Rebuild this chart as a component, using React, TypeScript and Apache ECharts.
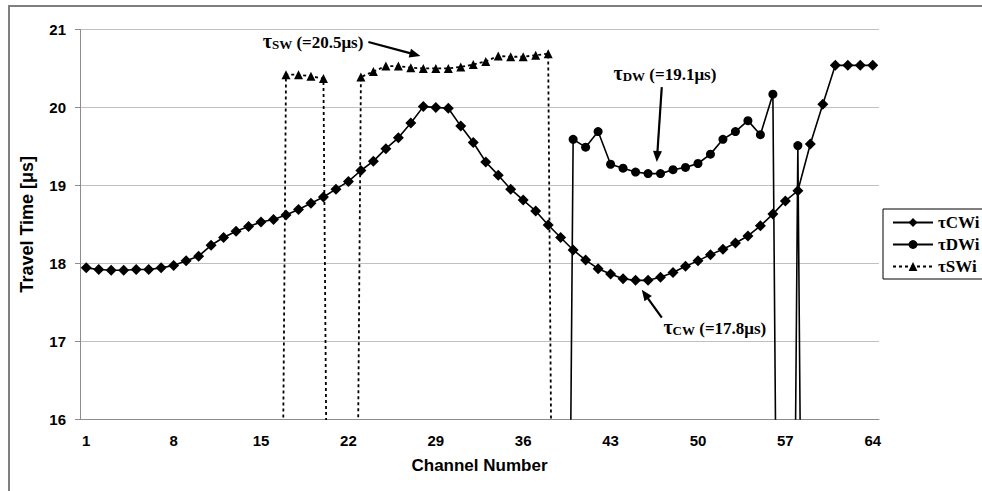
import React, { useEffect, useRef } from "react";
import * as echarts from "echarts";

const channels: string[] = Array.from({ length: 64 }, (_, i) => String(i + 1));

const tauCW: number[] = [
  17.94, 17.92, 17.91, 17.91, 17.92, 17.92, 17.94, 17.97, 18.03, 18.09,
  18.23, 18.33, 18.41, 18.47, 18.53, 18.56, 18.62, 18.69, 18.77, 18.85,
  18.95, 19.05, 19.19, 19.31, 19.47, 19.61, 19.8, 20.01, 20.0, 19.99,
  19.76, 19.55, 19.3, 19.13, 18.95, 18.81, 18.67, 18.49, 18.33, 18.17,
  18.04, 17.93, 17.86, 17.8, 17.78, 17.78, 17.82, 17.88, 17.96, 18.03,
  18.11, 18.18, 18.26, 18.35, 18.48, 18.63, 18.8, 18.93, 19.53, 20.04,
  20.54, 20.54, 20.54, 20.54,
];

const N = null;
const tauDW: (number | null)[] = [
  N, N, N, N, N, N, N, N, N, N,
  N, N, N, N, N, N, N, N, N, N,
  N, N, N, N, N, N, N, N, N, N,
  N, N, N, N, N, N, N, N, 0, 19.59,
  19.49, 19.69, 19.27, 19.22, 19.17, 19.15, 19.15, 19.2, 19.23, 19.28,
  19.4, 19.59, 19.69, 19.83, 19.65, 20.17, 0, 19.51, 0, N,
  N, N, N, N,
];

const tauSW: (number | null)[] = [
  N, N, N, N, N, N, N, N, N, N,
  N, N, N, N, N, 0, 20.42, 20.42, 20.4, 20.37,
  0, 0, 20.39, 20.46, 20.53, 20.53, 20.51, 20.5, 20.5, 20.5,
  20.52, 20.55, 20.59, 20.66, 20.65, 20.65, 20.67, 20.69, 0, N,
  N, N, N, N, N, N, N, N, N, N,
  N, N, N, N, N, N, N, N, N, N,
  N, N, N, N,
];

const seriesNames = ["τCWi", "τDWi", "τSWi"];

// annotation anchors in data units: [channel, value]
const annotations = [
  { sym: "τ", sub: "SW", rest: " (=20.5μs)", text: [23.2, 20.85], align: "right", from: [23.6, 20.84], to: [27.77, 20.66] },
  { sym: "τ", sub: "DW", rest: " (=19.1μs)", text: [47.35, 20.44], align: "center", from: [47.1, 20.26], to: [46.7, 19.3] },
  { sym: "τ", sub: "CW", rest: " (=17.8μs)", text: [47.23, 17.18], align: "left", from: [47.1, 17.3], to: [45.5, 17.66] },
];

const SANS = "'Liberation Sans', Arial, sans-serif";
const SERIF = "'Liberation Serif', 'Times New Roman', serif";

function toItems(arr: (number | null)[]) {
  return arr.map((v) => (v === 0 ? { value: 0, symbol: "none" } : v));
}

export default function App() {
  const ref = useRef<HTMLDivElement>(null);
  useEffect(() => {
    if (!ref.current) return;
    const chart = echarts.init(ref.current, null, { renderer: "svg" });
    const axisGray = "#8c8c8c";
    chart.setOption({
      animation: false,
      grid: { left: 80, right: 103, top: 29.5, bottom: 72 },
      xAxis: {
        type: "category",
        data: channels,
        boundaryGap: true,
        axisLine: { lineStyle: { color: axisGray, width: 1 } },
        axisTick: { interval: 0, length: 5, lineStyle: { color: axisGray } },
        axisLabel: { interval: 6, margin: 14, fontFamily: SANS, fontWeight: "bold", fontSize: 15, color: "#000" },
        splitLine: { show: false },
        name: "Channel Number",
        nameLocation: "middle",
        nameGap: 38,
        nameTextStyle: { fontFamily: SANS, fontWeight: "bold", fontSize: 17, color: "#000" },
      },
      yAxis: {
        type: "value",
        min: 16,
        max: 21,
        interval: 1,
        axisLine: { show: true, lineStyle: { color: axisGray, width: 1 } },
        axisTick: { show: true, length: 5, lineStyle: { color: axisGray } },
        axisLabel: { margin: 14, fontFamily: SANS, fontWeight: "bold", fontSize: 15, color: "#000" },
        splitLine: { lineStyle: { color: "#c0c0c0", width: 1 } },
        name: "Travel Time [μs]",
        nameLocation: "middle",
        nameGap: 44,
        nameRotate: 90,
        nameTextStyle: { fontFamily: SANS, fontWeight: "bold", fontSize: 18, color: "#000" },
      },
      legend: {
        orient: "vertical",
        left: 883,
        top: 209,
        data: seriesNames,
        itemWidth: 40,
        itemHeight: 11,
        itemGap: 5,
        padding: [5, 30, 4, 9],
        borderColor: "#000",
        borderWidth: 1,
        backgroundColor: "#fff",
        textStyle: { fontFamily: SERIF, fontWeight: "bold", fontSize: 17, color: "#000" },
      },
      series: [
        {
          name: seriesNames[0],
          type: "line",
          data: tauCW,
          symbol: "diamond",
          symbolSize: 11,
          showAllSymbol: true,
          itemStyle: { color: "#000" },
          lineStyle: { color: "#000", width: 1.6 },
          emphasis: { disabled: true },
          z: 3,
        },
        {
          name: seriesNames[1],
          type: "line",
          data: toItems(tauDW),
          symbol: "circle",
          symbolSize: 9,
          showAllSymbol: true,
          itemStyle: { color: "#000" },
          lineStyle: { color: "#000", width: 1.6 },
          emphasis: { disabled: true },
          clip: true,
          z: 3,
        },
        {
          name: seriesNames[2],
          type: "line",
          data: toItems(tauSW),
          symbol: "triangle",
          symbolSize: 9,
          showAllSymbol: true,
          itemStyle: { color: "#000" },
          lineStyle: { color: "#000", width: 1.8, type: [3, 3] },
          emphasis: { disabled: true },
          clip: true,
          z: 2,
        },
      ],
    });

    const toPx = (ch: number, v: number) => {
      const p0 = chart.convertToPixel({ gridIndex: 0 }, [0, v]) as number[];
      const p1 = chart.convertToPixel({ gridIndex: 0 }, [63, v]) as number[];
      return [p0[0] + ((ch - 1) * (p1[0] - p0[0])) / 63, p0[1]];
    };

    const graphics: any[] = [
      {
        type: "rect",
        silent: true,
        shape: { x: 9, y: 6, width: 1100, height: 1000 },
        style: { fill: "none", stroke: "#7f7f7f", lineWidth: 2 },
      },
    ];
    annotations.forEach((a) => {
      const t = toPx(a.text[0], a.text[1]);
      const f = toPx(a.from[0], a.from[1]);
      const e = toPx(a.to[0], a.to[1]);
      const dx = e[0] - f[0];
      const dy = e[1] - f[1];
      const len = Math.sqrt(dx * dx + dy * dy);
      const ux = dx / len;
      const uy = dy / len;
      const hl = 11;
      const hw = 4.5;
      const bx = e[0] - ux * hl;
      const by = e[1] - uy * hl;
      graphics.push({
        type: "line",
        silent: true,
        shape: { x1: f[0], y1: f[1], x2: bx + ux * 2, y2: by + uy * 2 },
        style: { stroke: "#000", lineWidth: 2.2 },
      });
      graphics.push({
        type: "polygon",
        silent: true,
        shape: {
          points: [
            [e[0], e[1]],
            [bx - uy * hw, by + ux * hw],
            [bx + uy * hw, by - ux * hw],
          ],
        },
        style: { fill: "#000" },
      });
      graphics.push({
        type: "text",
        silent: true,
        x: t[0],
        y: t[1],
        style: {
          text: `{t|${a.sym}}{s|${a.sub}}{r|${a.rest}}`,
          align: a.align,
          verticalAlign: "middle",
          rich: {
            t: { fontFamily: SERIF, fontWeight: "bold", fontSize: 20, fill: "#000", color: "#000", verticalAlign: "bottom" },
            s: { fontFamily: SERIF, fontWeight: "bold", fontSize: 13, fill: "#000", color: "#000", verticalAlign: "bottom" },
            r: { fontFamily: SERIF, fontWeight: "bold", fontSize: 17, fill: "#000", color: "#000", verticalAlign: "bottom" },
          },
        },
      });
    });
    chart.setOption({ graphic: graphics });

    return () => chart.dispose();
  }, []);
  return (
    <div
      ref={ref}
      style={{ position: "fixed", left: 0, top: 0, width: 982, height: 491, background: "#fff" }}
    />
  );
}
